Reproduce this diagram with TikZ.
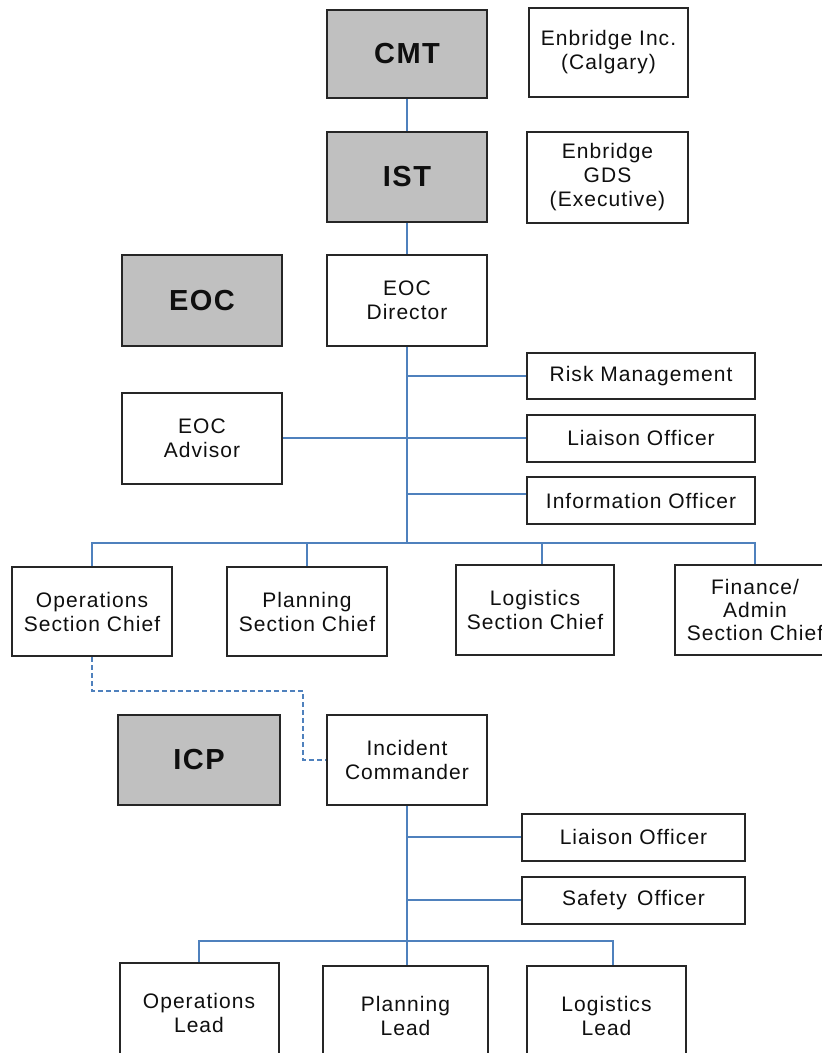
\documentclass[tikz,border=0pt]{standalone}
\usepackage{fontspec}
\setmainfont{Liberation Sans}[LetterSpace=5]
\definecolor{linkblue}{RGB}{79,129,189}
\definecolor{boxgray}{RGB}{192,192,192}
\definecolor{txt}{RGB}{15,15,15}
\begin{document}
\begin{tikzpicture}[x=1pt,y=-1pt,
  box/.style={draw=black!85, line width=2pt, fill=white, align=center, inner sep=0pt,
    text=txt, font=\fontsize{21}{24}\selectfont},
  gbox/.style={box, fill=boxgray, font=\bfseries\fontsize{29}{32}\selectfont},
  link/.style={draw=linkblue, line width=2pt},
  dlink/.style={link, dash pattern=on 5pt off 3pt}]
\useasboundingbox (0,0) rectangle (822,1053);
\clip (0,0) rectangle (822,1053);
\fill[white] (0,0) rectangle (822,1053);

% top
\node[gbox, minimum width=160pt, minimum height=88pt] (CMT) at (407,54) {CMT};
\node[box, minimum width=159pt, minimum height=89pt] (Inc) at (608.5,52.5) {Enbridge Inc.\\(Calgary)};
\node[gbox, minimum width=160pt, minimum height=90pt] (IST) at (407,177) {IST};
\node[box, minimum width=161pt, minimum height=91pt] (GDS) at (607.5,177.5) {Enbridge\\GDS\\(Executive)};

% EOC
\node[gbox, minimum width=160pt, minimum height=91pt] (EOC) at (202,300.5) {EOC};
\node[box, minimum width=160pt, minimum height=91pt] (EOCDir) at (407,300.5) {EOC\\Director};
\node[box, minimum width=228pt, minimum height=46pt] (Risk) at (641,376) {Risk Management};
\node[box, minimum width=228pt, minimum height=47pt] (Lia) at (641,438) {Liaison Officer};
\node[box, minimum width=228pt, minimum height=47pt] (Info) at (641,500.5) {Information Officer};
\node[box, minimum width=160pt, minimum height=91pt] (Adv) at (202,438) {EOC\\Advisor};

% sections
\node[box, minimum width=160pt, minimum height=89pt] (OpsSC) at (92,611.5) {Operations\\Section Chief};
\node[box, minimum width=160pt, minimum height=89pt] (PlanSC) at (307,611.5) {Planning\\Section Chief};
\node[box, minimum width=158pt, minimum height=90pt] (LogSC) at (535,610) {Logistics\\Section Chief};
\node[box, minimum width=160pt, minimum height=90pt, font=\fontsize{21}{23}\selectfont] (FinSC) at (755,610) {Finance/\\Admin\\Section Chief};

% ICP
\node[gbox, minimum width=162pt, minimum height=90pt] (ICP) at (199,760) {ICP};
\node[box, minimum width=160pt, minimum height=90pt] (IC) at (407,760) {Incident\\Commander};
\node[box, minimum width=223pt, minimum height=47pt] (ICLia) at (633.5,837) {Liaison Officer};
\node[box, minimum width=223pt, minimum height=47pt] (Safe) at (633.5,900) {Safety\, Officer};

% leads
\node[box, minimum width=159pt, minimum height=100pt] (OpsL) at (199,1013) {Operations\\Lead};
\node[box, minimum width=165pt, minimum height=100pt] (PlanL) at (405.5,1016) {Planning\\Lead};
\node[box, minimum width=159pt, minimum height=100pt] (LogL) at (606.5,1016) {Logistics\\Lead};

\coordinate (bus1) at (407,543);
\coordinate (bus2) at (407,941);
\coordinate (d1) at (303,691);
\coordinate (infoIn) at ([yshift=6.5pt]Info.west);
\coordinate (logscIn) at ([xshift=7pt]LogSC.north);
\coordinate (loglIn) at ([xshift=6.5pt]LogL.north);

% connectors
\draw[link] (CMT) -- (IST);
\draw[link] (IST) -- (EOCDir);
\draw[link] (EOCDir.south) -- (bus1);
\draw[link] (EOCDir.south |- Risk.west) -- (Risk.west);
\draw[link] (Adv.east) -- (Lia.west);
\draw[link] (EOCDir.south |- infoIn) -- (infoIn);
\draw[link] (OpsSC.north) -- (OpsSC.north |- bus1) -- (FinSC.north |- bus1) -- (FinSC.north);
\draw[link] (PlanSC.north |- bus1) -- (PlanSC.north);
\draw[link] (logscIn |- bus1) -- (logscIn);
\draw[dlink] (OpsSC.south) |- (d1) |- (IC.west);

\draw[link] (IC.south) -- (bus2);
\draw[link] (IC.south |- ICLia.west) -- (ICLia.west);
\draw[link] (IC.south |- Safe.west) -- (Safe.west);
\draw[link] (OpsL.north) -- (OpsL.north |- bus2) -- (loglIn |- bus2) -- (loglIn);
\draw[link] (bus2) -- (bus2 |- PlanL.north);
\end{tikzpicture}
\end{document}
